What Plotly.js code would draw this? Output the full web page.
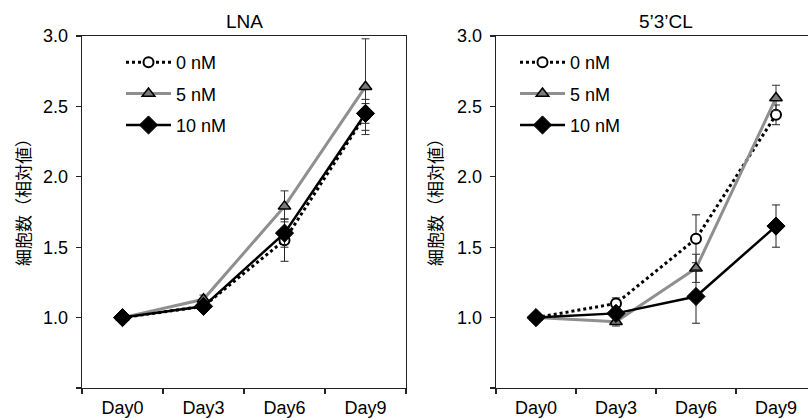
<!DOCTYPE html>
<html>
<head>
<meta charset="utf-8">
<script src="https://cdn.plot.ly/plotly-3.0.1.min.js"></script>
<style>html,body{margin:0;padding:0;background:#fff;}#chart{width:808px;height:420px;}</style>
</head>
<body>
<div id="chart"></div>
<script>
// Categories and tick labels
const days = ["Day0", "Day3", "Day6", "Day9"];
const seriesNames = ["0 nM", "5 nM", "10 nM"];
const yTickVals = [0.5, 1.0, 1.5, 2.0, 2.5, 3.0];
const yTickText = ["", "1.0", "1.5", "2.0", "2.5", "3.0"];
const panelTitles = ["LNA", "5\u20193\u2019CL"];
const yTitle = "細胞数（相対値）";

// LNA panel
const lna0 = [1.00, 1.08, 1.55, 2.44];
const lna0Err = [0.02, 0.03, 0.15, 0.11];
const lna5 = [1.00, 1.13, 1.79, 2.64];
const lna5Err = [0.02, 0.03, 0.11, 0.34];
const lna10 = [1.00, 1.08, 1.60, 2.45];
const lna10Err = [0.02, 0.03, 0.10, 0.07];

// 5'3'CL panel
const cl0 = [1.00, 1.10, 1.56, 2.44];
const cl0Err = [0.02, 0.04, 0.17, 0.07];
const cl5 = [1.00, 0.97, 1.35, 2.56];
const cl5Err = [0.02, 0.03, 0.10, 0.09];
const cl10 = [1.00, 1.03, 1.15, 1.65];
const cl10Err = [0.02, 0.03, 0.19, 0.15];

const styles = [
  {line: {color: "#000", width: 3, dash: "dot"},
   marker: {symbol: "circle", size: 10, color: "#fff", line: {color: "#000", width: 2}},
   errColor: "#222"},
  {line: {color: "#8f8f8f", width: 3, dash: "solid"},
   marker: {symbol: "triangle-up", size: 11, color: "#7a7a7a", line: {color: "#000", width: 1.5}},
   errColor: "#333"},
  {line: {color: "#000", width: 2.5, dash: "solid"},
   marker: {symbol: "diamond", size: 14, color: "#000", line: {color: "#000", width: 1}},
   errColor: "#222"}
];

function mk(vals, errs, i, xa, ya, leg) {
  const s = styles[i];
  return {
    type: "scatter", mode: "lines+markers",
    x: days, y: vals, name: seriesNames[i],
    xaxis: xa, yaxis: ya, legend: leg, legendgroup: leg + i,
    line: s.line, marker: s.marker,
    error_y: {type: "data", array: errs, visible: true, color: s.errColor, thickness: 1, width: 4}
  };
}

const data = [
  mk(lna0, lna0Err, 0, "x", "y", "legend"),
  mk(lna5, lna5Err, 1, "x", "y", "legend"),
  mk(lna10, lna10Err, 2, "x", "y", "legend"),
  mk(cl0, cl0Err, 0, "x2", "y2", "legend2"),
  mk(cl5, cl5Err, 1, "x2", "y2", "legend2"),
  mk(cl10, cl10Err, 2, "x2", "y2", "legend2")
];

const W = 808, H = 420;
const fam = "Liberation Sans, Arial, sans-serif";
const tickFont = {family: fam, size: 18, color: "#000"};
const legFont = {family: fam, size: 18, color: "#000"};
const titleFont = {family: fam, size: 19, color: "#000"};
const cjkFont = {family: "Noto Sans CJK JP, sans-serif", size: 17, color: "#000"};

const axLine = {showline: true, linecolor: "#222", linewidth: 1.3, showgrid: false, zeroline: false,
  ticks: "outside", ticklen: 5, tickcolor: "#222", tickwidth: 1.3, tickfont: tickFont};

const xBase = Object.assign({}, axLine, {type: "category", tickson: "boundaries", mirror: true,
  categoryorder: "array", categoryarray: days, ticklabelstandoff: 3});
const yBase = Object.assign({}, axLine, {range: [0.5, 3.0], tickvals: yTickVals, ticktext: yTickText,
  ticklabelstandoff: 4});

const legendBase = {font: legFont, bgcolor: "rgba(0,0,0,0)", borderwidth: 0, yanchor: "top", xanchor: "left",
  tracegroupgap: 5, itemwidth: 45, traceorder: "grouped"};

// pixel -> paper (vertical paper spans the plotting area 36..388)
function py(pix) { return (388 - pix) / 352; }

const layout = {
  width: W, height: H,
  margin: {l: 0, r: 0, t: 36, b: 32},
  paper_bgcolor: "#fff", plot_bgcolor: "#fff",
  font: tickFont,
  xaxis: Object.assign({}, xBase, {domain: [82 / W, 406 / W], range: [-0.5, 3.5], anchor: "y"}),
  yaxis: Object.assign({}, yBase, {domain: [0, 1], anchor: "x", mirror: true}),
  xaxis2: Object.assign({}, xBase, {domain: [496 / W, 1], range: [-0.5, 3.4], anchor: "y2"}),
  yaxis2: Object.assign({}, yBase, {domain: [0, 1], anchor: "x2", mirror: false}),
  legend: Object.assign({}, legendBase, {x: 121 / W, y: py(44)}),
  legend2: Object.assign({}, legendBase, {x: 515 / W, y: py(44)}),
  showlegend: true,
  annotations: [
    {text: panelTitles[0], xref: "paper", yref: "paper", x: 244 / W, y: py(22), xanchor: "center",
     yanchor: "middle", showarrow: false, font: titleFont},
    {text: panelTitles[1], xref: "paper", yref: "paper", x: 666 / W, y: py(22), xanchor: "center",
     yanchor: "middle", showarrow: false, font: titleFont},
    {text: yTitle, xref: "paper", yref: "paper", x: 22 / W, y: py(198), textangle: -90, showarrow: false,
     xanchor: "center", yanchor: "middle", font: cjkFont},
    {text: yTitle, xref: "paper", yref: "paper", x: 434 / W, y: py(198), textangle: -90, showarrow: false,
     xanchor: "center", yanchor: "middle", font: cjkFont}
  ]
};

Plotly.newPlot("chart", data, layout, {displayModeBar: false, staticPlot: true});
</script>
</body>
</html>
